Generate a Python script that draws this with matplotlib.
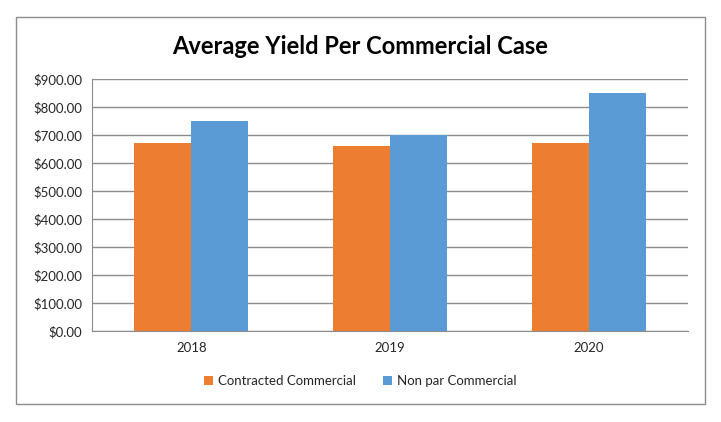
import matplotlib.pyplot as plt
import numpy as np
from matplotlib.patches import Rectangle

plt.rcParams['font.family'] = ['Lato', 'DejaVu Sans']

years = ['2018', '2019', '2020']
contracted = [673, 659, 673]
non_par = [751, 700, 851]
y_ticks = [0, 100, 200, 300, 400, 500, 600, 700, 800, 900]

fig = plt.figure(figsize=(7.21, 4.22), dpi=100)
ax = fig.add_axes([92 / 721, 91 / 422, 596 / 721, 252 / 422])

# outer chart border
fig.patches.append(Rectangle((16 / 721, 18 / 422), 689 / 721, 387 / 422,
                             transform=fig.transFigure, fill=False,
                             edgecolor='#8c8c8c', linewidth=1.0))

x = np.arange(len(years))
w = 0.287
ax.bar(x - w / 2, contracted, w, color='#ED7D31', label='Contracted Commercial', zorder=3)
ax.bar(x + w / 2, non_par, w, color='#5B9BD5', label='Non par Commercial', zorder=3)

ax.set_xlim(-0.5, 2.5)
ax.set_ylim(0, 900)
ax.set_yticks(y_ticks)
ax.set_yticklabels(['${:,.2f}'.format(v) for v in y_ticks])
ax.set_xticks(x)
ax.set_xticklabels(years)
ax.tick_params(axis='both', length=0, labelsize=9.5, colors='#262626')
ax.tick_params(axis='y', pad=7)
ax.tick_params(axis='x', pad=8)

ax.grid(axis='y', color='#8c8c8c', linewidth=1.0, zorder=0)
for s in ['top', 'right']:
    ax.spines[s].set_visible(False)
ax.spines['left'].set_color('#8c8c8c')
ax.spines['bottom'].set_color('#8c8c8c')

fig.text(0.5, 1 - 47 / 422, 'Average Yield Per Commercial Case', ha='center', va='center',
         fontsize=17, fontweight='bold', color='black')

fig.legend(loc='center', bbox_to_anchor=(0.5, 1 - 381 / 422), ncol=2, frameon=False,
           fontsize=9.5, handlelength=0.7, handleheight=0.7, columnspacing=2.0,
           handletextpad=0.4, labelcolor='#262626')

plt.savefig('out.png', dpi=100, facecolor='white')
